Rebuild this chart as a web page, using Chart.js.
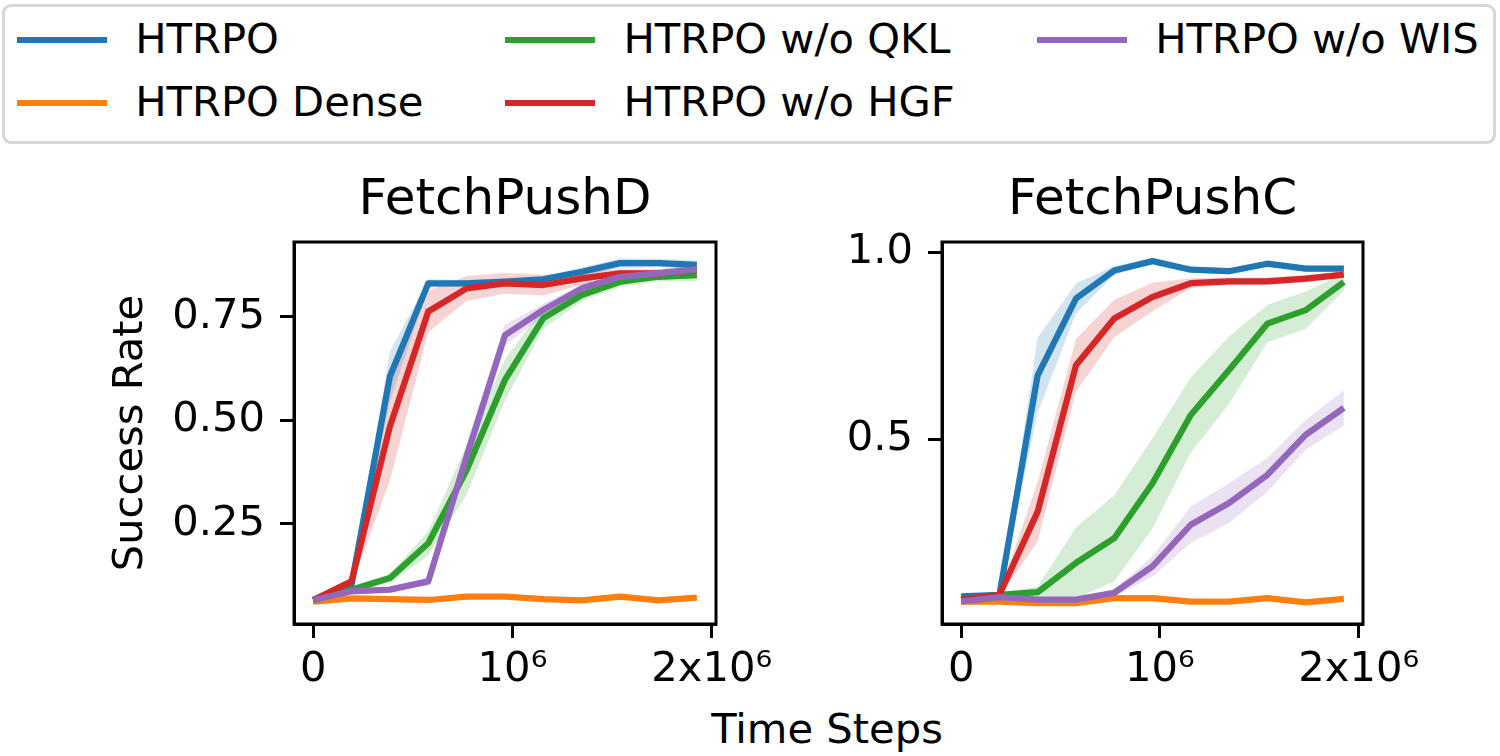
<!DOCTYPE html>
<html lang="en">
<head>
  <meta charset="UTF-8">
  <title>FetchPushD / FetchPushC</title>
  <script src="https://cdn.jsdelivr.net/npm/chart.js"></script>
  <style>
    body {
      margin: 0;
      width: 1500px;
      height: 756px;
      position: relative;
      overflow: hidden;
      background: #fff;
      font-family: "DejaVu Sans", sans-serif;
      color: #000;
    }
    #legendBox {
      position: absolute;
      left: 2px;
      top: 4px;
      width: 1494px;
      height: 140px;
      box-sizing: border-box;
      border: 3px solid #d6d6d6;
      border-radius: 9px;
    }
    .leg-line {
      position: absolute;
      width: 90px;
      height: 6px;
    }
    .leg-text {
      position: absolute;
      font-size: 41.67px;
      line-height: 50px;
      white-space: nowrap;
    }
    canvas { position: absolute; }
    #xlabel {
      position: absolute;
      left: 627px;
      width: 400px;
      top: 703.6px;
      text-align: center;
      font-size: 41.67px;
      line-height: 50px;
    }
  </style>
</head>
<body>
  <div id="legendBox"></div>
  <canvas id="chartD" width="700" height="540" style="left:100px; top:160px;"></canvas>
  <canvas id="chartC" width="700" height="540" style="left:760px; top:160px;"></canvas>
  <div id="xlabel">Time Steps</div>

  <script>
    const steps = [0, 192500, 385000, 577500, 770000, 962500, 1155000, 1347500, 1540000, 1732500, 1925000];
    const seriesNames = ["HTRPO", "HTRPO Dense", "HTRPO w/o QKL", "HTRPO w/o HGF", "HTRPO w/o WIS"];
    const seriesColors = ["#1f77b4", "#ff7f0e", "#2ca02c", "#d62728", "#9467bd"];
    const bandColors = ["rgba(31,119,180,0.2)", "rgba(255,127,14,0.2)", "rgba(44,160,44,0.2)", "rgba(214,39,40,0.2)", "rgba(148,103,189,0.2)"];

    // FetchPushD : mean and std
    const pushD_htrpo     = [0.066, 0.103, 0.606, 0.831, 0.831, 0.835, 0.841, 0.859, 0.880, 0.880, 0.876];
    const pushD_htrpo_std = [0.005, 0.005, 0.060, 0.010, 0.008, 0.008, 0.008, 0.010, 0.012, 0.010, 0.010];
    const pushD_dense     = [0.062, 0.070, 0.068, 0.066, 0.074, 0.074, 0.068, 0.065, 0.074, 0.065, 0.072];
    const pushD_dense_std = [0.004, 0.004, 0.004, 0.004, 0.004, 0.004, 0.004, 0.004, 0.004, 0.004, 0.004];
    const pushD_noQKL     = [0.066, 0.091, 0.119, 0.203, 0.380, 0.598, 0.747, 0.803, 0.835, 0.847, 0.851];
    const pushD_noQKL_std = [0.005, 0.008, 0.010, 0.030, 0.060, 0.050, 0.025, 0.015, 0.012, 0.012, 0.015];
    const pushD_noHGF     = [0.066, 0.111, 0.485, 0.763, 0.819, 0.831, 0.827, 0.843, 0.855, 0.855, 0.863];
    const pushD_noHGF_std = [0.005, 0.010, 0.130, 0.050, 0.030, 0.025, 0.025, 0.015, 0.010, 0.010, 0.010];
    const pushD_noWIS     = [0.066, 0.087, 0.091, 0.111, 0.413, 0.706, 0.767, 0.819, 0.847, 0.855, 0.865];
    const pushD_noWIS_std = [0.005, 0.005, 0.005, 0.010, 0.030, 0.025, 0.015, 0.010, 0.010, 0.010, 0.010];

    // FetchPushC : mean and std
    const pushC_htrpo     = [0.081, 0.085, 0.671, 0.876, 0.951, 0.976, 0.953, 0.949, 0.969, 0.956, 0.956];
    const pushC_htrpo_std = [0.004, 0.004, 0.100, 0.040, 0.012, 0.006, 0.008, 0.008, 0.008, 0.008, 0.008];
    const pushC_dense     = [0.067, 0.067, 0.063, 0.063, 0.076, 0.076, 0.067, 0.067, 0.076, 0.065, 0.074];
    const pushC_dense_std = [0.004, 0.004, 0.004, 0.004, 0.004, 0.004, 0.004, 0.004, 0.004, 0.004, 0.004];
    const pushC_noQKL     = [0.072, 0.085, 0.092, 0.170, 0.236, 0.383, 0.565, 0.685, 0.809, 0.845, 0.920];
    const pushC_noQKL_std = [0.004, 0.005, 0.015, 0.095, 0.115, 0.120, 0.100, 0.090, 0.050, 0.050, 0.022];
    const pushC_noHGF     = [0.072, 0.085, 0.307, 0.698, 0.823, 0.880, 0.917, 0.922, 0.922, 0.929, 0.940];
    const pushC_noHGF_std = [0.004, 0.005, 0.080, 0.070, 0.050, 0.038, 0.013, 0.010, 0.010, 0.010, 0.008];
    const pushC_noWIS     = [0.067, 0.079, 0.072, 0.072, 0.090, 0.161, 0.272, 0.330, 0.405, 0.512, 0.584];
    const pushC_noWIS_std = [0.004, 0.004, 0.004, 0.004, 0.010, 0.027, 0.049, 0.053, 0.045, 0.040, 0.047];

    const xTickValues = [0, 1000000, 2000000];
    const xTickLabels = ["0", "10\u2076", "2x10\u2076"];
    const yTicksD = [0.25, 0.5, 0.75];
    const yTickLabelsD = ["0.25", "0.50", "0.75"];
    const yTicksC = [0.5, 1.0];
    const yTickLabelsC = ["0.5", "1.0"];

    const FONT = "'DejaVu Sans', sans-serif";

    // legend (matplotlib style, 3 columns, column-major)
    const legendCols = [16.7, 505, 1036.7];
    const legendRows = [40, 103];
    seriesNames.forEach(function(name, i) {
      const col = Math.floor(i / 2), row = i % 2;
      const line = document.createElement("div");
      line.className = "leg-line";
      line.style.background = seriesColors[i];
      line.style.left = legendCols[col] + "px";
      line.style.top = (legendRows[row] - 3) + "px";
      document.body.appendChild(line);
      const txt = document.createElement("div");
      txt.className = "leg-text";
      txt.textContent = name;
      txt.style.left = (legendCols[col] + 118.5) + "px";
      txt.style.top = (legendRows[row] - 26) + "px";
      document.body.appendChild(txt);
    });

    // box around the plotting area, drawn on top like matplotlib spines
    const framePlugin = {
      id: "frame",
      afterDatasetsDraw(chart) {
        const a = chart.chartArea, ctx = chart.ctx;
        ctx.save();
        ctx.strokeStyle = "#000";
        ctx.lineWidth = 3;
        ctx.strokeRect(a.left, a.top, a.right - a.left, a.bottom - a.top);
        ctx.restore();
      }
    };

    function buildDatasets(means, stds) {
      const lines = [], bands = [];
      means.forEach(function(m, i) {
        lines.push({
          data: steps.map((x, k) => ({ x: x, y: m[k] })),
          borderColor: seriesColors[i],
          borderWidth: 6.25,
          borderJoinStyle: "round",
          pointRadius: 0,
          fill: false,
          order: 10 - i
        });
        bands.push({
          data: steps.map((x, k) => ({ x: x, y: m[k] + stds[i][k] })),
          borderColor: "transparent",
          borderWidth: 1,
          backgroundColor: bandColors[i],
          pointRadius: 0,
          fill: "+1",
          order: 20
        });
        bands.push({
          data: steps.map((x, k) => ({ x: x, y: m[k] - stds[i][k] })),
          borderColor: "transparent",
          borderWidth: 1,
          pointRadius: 0,
          fill: false,
          order: 20
        });
      });
      return lines.concat(bands);
    }

    function makeChart(id, title, means, stds, yMin, yMax, yTicks, yLabels, yAxisWidth, rightPad, yTitle) {
      return new Chart(document.getElementById(id), {
        type: "line",
        data: { datasets: buildDatasets(means, stds) },
        plugins: [framePlugin],
        options: {
          responsive: false,
          animation: false,
          devicePixelRatio: 1,
          layout: { padding: { top: 0, right: rightPad, bottom: 0, left: 0 } },
          plugins: {
            legend: { display: false },
            tooltip: { enabled: false },
            title: {
              display: true,
              text: title,
              fullSize: false,
              color: "#000",
              font: { family: FONT, size: 50, weight: "normal" },
              padding: { top: 11.5, bottom: 10.5 }
            }
          },
          scales: {
            x: {
              type: "linear",
              min: -96250,
              max: 2021250,
              afterBuildTicks: s => { s.ticks = xTickValues.map(v => ({ value: v })); },
              afterFit: s => { s.height = 76; s.paddingLeft = 0; s.paddingRight = 0; },
              ticks: {
                autoSkip: false,
                maxRotation: 0,
                padding: 7,
                color: "#000",
                font: { family: FONT, size: 41.67 },
                callback: v => xTickLabels[xTickValues.indexOf(v)]
              },
              grid: { drawOnChartArea: false, tickLength: 14, tickWidth: 3, tickColor: "#000" },
              border: { color: "#000", width: 3 }
            },
            y: {
              min: yMin,
              max: yMax,
              afterBuildTicks: s => { s.ticks = yTicks.map(v => ({ value: v })); },
              afterFit: s => { s.width = yAxisWidth; s.paddingTop = 0; s.paddingBottom = 0; },
              ticks: {
                padding: 15,
                color: "#000",
                font: { family: FONT, size: 41.67 },
                callback: v => yLabels[yTicks.indexOf(v)]
              },
              title: {
                display: !!yTitle,
                text: yTitle || "",
                color: "#000",
                font: { family: FONT, size: 41.67 },
                padding: { top: 5.75, bottom: 0 }
              },
              grid: { drawOnChartArea: false, tickLength: 14, tickWidth: 3, tickColor: "#000" },
              border: { color: "#000", width: 3 }
            }
          }
        }
      });
    }

    makeChart("chartD", "FetchPushD",
      [pushD_htrpo, pushD_dense, pushD_noQKL, pushD_noHGF, pushD_noWIS],
      [pushD_htrpo_std, pushD_dense_std, pushD_noQKL_std, pushD_noHGF_std, pushD_noWIS_std],
      0.008, 0.931, yTicksD, yTickLabelsD, 194, 84, "Success Rate");

    makeChart("chartC", "FetchPushC",
      [pushC_htrpo, pushC_dense, pushC_noQKL, pushC_noHGF, pushC_noWIS],
      [pushC_htrpo_std, pushC_dense_std, pushC_noQKL_std, pushC_noHGF_std, pushC_noWIS_std],
      0.007, 1.027, yTicksC, yTickLabelsC, 182, 97, "");
  </script>
</body>
</html>
